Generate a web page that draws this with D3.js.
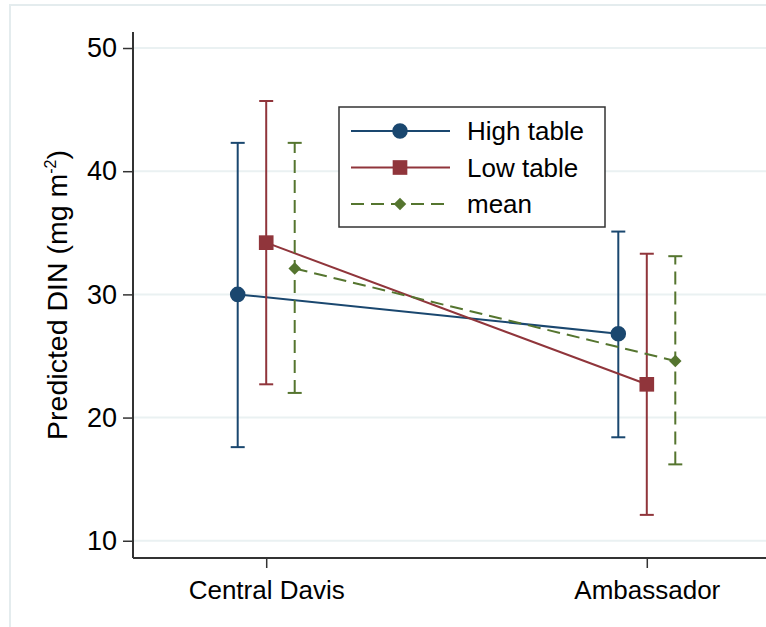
<!DOCTYPE html>
<html>
<head>
<meta charset="utf-8">
<script src="https://cdn.jsdelivr.net/npm/d3@7"></script>
<style>
  body { margin: 0; background: #fff; }
  text { font-family: "Liberation Sans", Arial, Helvetica, sans-serif; fill: #000; }
</style>
</head>
<body>
<svg id="chart"></svg>
<script>
// data
const categories = ["Central Davis", "Ambassador"];
const seriesNames = ["High table", "Low table", "mean"];
const highVals = [30.0, 26.8];
const highLo = [17.6, 18.4];
const highHi = [42.3, 35.1];
const lowVals = [34.2, 22.7];
const lowLo = [22.7, 12.1];
const lowHi = [45.7, 33.3];
const meanVals = [32.1, 24.6];
const meanLo = [22.0, 16.2];
const meanHi = [42.3, 33.1];
const yTicks = [10, 20, 30, 40, 50];

const width = 766, height = 627;
const svg = d3.select("#chart")
    .attr("width", width)
    .attr("height", height);

// outer frame (cut off on the right and bottom)
svg.append("rect")
    .attr("x", 10).attr("y", 5)
    .attr("width", 800).attr("height", 700)
    .attr("fill", "#fff")
    .attr("stroke", "#e4ecee")
    .attr("stroke-width", 2);

const plotLeft = 133, plotRight = 780, plotTop = 32, plotBottom = 558;

const y = d3.scaleLinear()
    .domain([8.6, 51.3])
    .range([plotBottom, plotTop]);

const x = d3.scalePoint()
    .domain(categories)
    .range([plotLeft, plotRight])
    .padding(0.35);

const offset = d3.scalePoint()
    .domain(seriesNames)
    .range([-28.5, 28.5]);

// gridlines
svg.append("g")
    .selectAll("line")
    .data(yTicks)
    .join("line")
    .attr("x1", plotLeft).attr("x2", width)
    .attr("y1", d => y(d)).attr("y2", d => y(d))
    .attr("stroke", "#eaf1f2")
    .attr("stroke-width", 2);

// axes
const yAxisGroup = svg.append("g")
    .attr("transform", `translate(${plotLeft},0)`)
    .call(d3.axisLeft(y).tickValues(yTicks).tickSize(10).tickPadding(6).tickSizeOuter(0));
const xAxisGroup = svg.append("g")
    .attr("transform", `translate(0,${plotBottom})`)
    .call(d3.axisBottom(x).tickSize(10).tickPadding(8).tickSizeOuter(0));

[yAxisGroup, xAxisGroup].forEach(g => {
    g.select(".domain").attr("stroke", "#333").attr("stroke-width", 2);
    g.selectAll(".tick line").attr("stroke", "#333").attr("stroke-width", 1.5);
    g.selectAll(".tick text").attr("font-size", 26).attr("fill", "#000")
        .attr("font-family", "'Liberation Sans', Arial, Helvetica, sans-serif");
});
yAxisGroup.selectAll(".tick text").attr("font-size", 27);
yAxisGroup.select(".domain").attr("d", `M0,${plotTop}V${plotBottom}`);
xAxisGroup.select(".domain").attr("d", `M${plotLeft},0H${width}`);
xAxisGroup.selectAll(".tick text").attr("dy", "0.9em");

// y axis title
const yTitle = svg.append("text")
    .attr("transform", `translate(67,${(plotTop + plotBottom) / 2}) rotate(-90)`)
    .attr("text-anchor", "middle")
    .attr("font-size", 28.5);
yTitle.append("tspan").text("Predicted DIN (mg m");
yTitle.append("tspan").text("-2").attr("font-size", 16).attr("dy", -11);
yTitle.append("tspan").text(")").attr("dy", 11);

const series = [
    { name: "High table", vals: highVals, lo: highLo, hi: highHi, color: "#1a476f", dash: null, shape: "circle" },
    { name: "Low table", vals: lowVals, lo: lowLo, hi: lowHi, color: "#90353b", dash: null, shape: "square" },
    { name: "mean", vals: meanVals, lo: meanLo, hi: meanHi, color: "#55752f", dash: "13,7", shape: "diamond" }
];

const symbolFor = {
    circle: d3.symbol().type(d3.symbolCircle).size(190),
    square: d3.symbol().type(d3.symbolSquare).size(215),
    diamond: d3.symbol().type(d3.symbolSquare).size(78)
};
const rotFor = { circle: 0, square: 0, diamond: 45 };

const px = (s, i) => x(categories[i]) + offset(s.name);

series.forEach(s => {
    const g = svg.append("g");
    const pts = categories.map((c, i) => i);

    // error bars
    g.selectAll(".bar").data(pts).join("line")
        .attr("x1", i => px(s, i)).attr("x2", i => px(s, i))
        .attr("y1", i => y(s.lo[i])).attr("y2", i => y(s.hi[i]))
        .attr("stroke", s.color).attr("stroke-width", 2)
        .attr("stroke-dasharray", s.dash);
    ["lo", "hi"].forEach(k => {
        g.selectAll(".cap-" + k).data(pts).join("line")
            .attr("x1", i => px(s, i) - 7).attr("x2", i => px(s, i) + 7)
            .attr("y1", i => y(s[k][i])).attr("y2", i => y(s[k][i]))
            .attr("stroke", s.color).attr("stroke-width", 2);
    });

    // connecting line
    g.append("path")
        .attr("d", d3.line().x(i => px(s, i)).y(i => y(s.vals[i]))(pts))
        .attr("fill", "none")
        .attr("stroke", s.color).attr("stroke-width", 2)
        .attr("stroke-dasharray", s.dash);

    // markers
    g.selectAll(".mk").data(pts).join("path")
        .attr("transform", i => `translate(${px(s, i)},${y(s.vals[i])}) rotate(${rotFor[s.shape]})`)
        .attr("d", symbolFor[s.shape])
        .attr("fill", s.color);
});

// legend
const legend = svg.append("g").attr("transform", "translate(339,107)");
legend.append("rect")
    .attr("width", 266).attr("height", 120)
    .attr("fill", "#fff")
    .attr("stroke", "#333").attr("stroke-width", 1.5);
const legendRow = d3.scaleLinear().domain([0, 2]).range([24, 97]);
series.forEach((s, i) => {
    const row = legend.append("g").attr("transform", `translate(0,${legendRow(i)})`);
    row.append("line")
        .attr("x1", 12).attr("x2", 111)
        .attr("stroke", s.color).attr("stroke-width", 2)
        .attr("stroke-dasharray", s.dash);
    row.append("path")
        .attr("transform", `translate(61,0) rotate(${rotFor[s.shape]})`)
        .attr("d", symbolFor[s.shape])
        .attr("fill", s.color);
    row.append("text")
        .attr("x", 128).attr("dy", "0.36em")
        .attr("font-size", 26)
        .text(s.name);
});
</script>
</body>
</html>
